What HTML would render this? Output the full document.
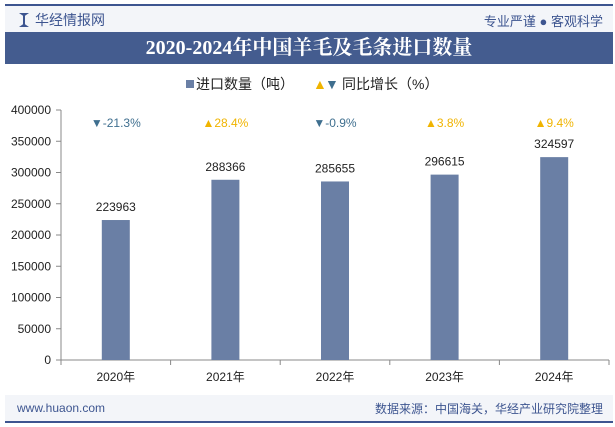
<!DOCTYPE html>
<html><head><meta charset="utf-8"><style>
body{margin:0;width:615px;height:427px;background:#fff;font-family:"Liberation Sans","Noto Sans CJK SC",sans-serif;overflow:hidden;position:relative}
.abs{position:absolute}
</style></head><body>
<div class="abs" style="left:5px;top:4px;width:608px;height:2px;background:#3d5590"></div>
<div class="abs" style="left:5px;top:6px;width:608px;height:26px;background:#f3f5f9"></div>
<div class="abs" style="left:19px;top:10px;font-size:14px;color:#3d5590;"><span style="display:inline-block;width:10px;height:14px;background:#3d5590;vertical-align:-2px;margin-right:6px;clip-path:polygon(0 0,40% 20%,40% 80%,0 100%,100% 100%,60% 80%,60% 20%,100% 0)"></span>华经情报网</div>
<div class="abs" style="right:12px;top:11px;font-size:13px;color:#3d5590">专业严谨 ● 客观科学</div>
<div class="abs" style="left:5px;top:32px;width:608px;height:32px;background:#445c8f;color:#fff;font:bold 20px 'Liberation Serif','Noto Serif CJK SC',serif;text-align:center;line-height:32px">2020-2024年中国羊毛及毛条进口数量</div>
<svg class="abs" style="left:0;top:0" width="615" height="427" id="chart"></svg>
<div class="abs" style="left:5px;top:395px;width:608px;height:26px;background:#f3f5f9"></div>
<div class="abs" style="left:17px;top:401px;font-size:12px;color:#3d5590">www.huaon.com</div>
<div class="abs" style="right:12px;top:400px;font-size:12px;color:#3d5590">数据来源：中国海关，华经产业研究院整理</div>
<div class="abs" style="left:5px;top:421px;width:608px;height:2px;background:#3d5590"></div>
<script>
const categories=["2020年","2021年","2022年","2023年","2024年"];
const values=[223963,288366,285655,296615,324597];
const growth=[-21.3,28.4,-0.9,3.8,9.4];
const yTicks=[0,50000,100000,150000,200000,250000,300000,350000,400000];
const svg=document.getElementById('chart');
const NS='http://www.w3.org/2000/svg';
const x0=61,x1=609,y0=360,yTop=110;
const band=(x1-x0)/categories.length;
const X=i=>x0+band*(i+0.5);
const Y=v=>y0-(v/400000)*(y0-yTop);
function el(t,a,txt){const e=document.createElementNS(NS,t);for(const k in a)e.setAttribute(k,a[k]);if(txt!=null)e.textContent=txt;svg.appendChild(e);return e;}
let ax=el('line',{x1:x0,y1:y0,x2:x1,y2:y0,stroke:'#888'});

let ay=el('line',{x1:x0,y1:yTop,x2:x0,y2:y0,stroke:'#888'});

yTicks.forEach(v=>{
 el('line',{x1:x0-5,y1:Y(v),x2:x0,y2:Y(v),stroke:'#888'});
 let t=el('text',{x:x0-10,y:Y(v)+4,'text-anchor':'end','font-size':12,fill:'#222'},v);
 
});
for(let i=0;i<=categories.length;i++)el('line',{x1:x0+band*i,y1:y0,x2:x0+band*i,y2:y0+5,stroke:'#888'});
categories.forEach((c,i)=>{
 let b=el('rect',{x:X(i)-14,y:Y(values[i]),width:28,height:y0-Y(values[i]),fill:'#6a7fa5'});
 
 let v=el('text',{x:X(i),y:Y(values[i])-9,'text-anchor':'middle','font-size':12,fill:'#222'},values[i]);
 
 let l=el('text',{x:X(i),y:y0+21,'text-anchor':'middle','font-size':12,fill:'#222'},c);
 
 const up=growth[i]>=0;
 let g=el('text',{x:X(i),y:127,'text-anchor':'middle','font-size':12,fill:up?'#f0b400':'#3f6f8f'},(up?'▲':'▼')+growth[i]+'%');
 
});
let lg=el('rect',{x:186,y:80,width:8,height:8,fill:'#6a7fa5'});

let lt=el('text',{x:196,y:89,'font-size':14,fill:'#222'},'进口数量（吨）');

let lt2=el('text',{x:313,y:89,'font-size':14,fill:'#f0b400'},'▲');

let lt3=el('text',{x:325,y:89,'font-size':14,fill:'#3f6f8f'},'▼');

let lt4=el('text',{x:342,y:89,'font-size':14,fill:'#222'},'同比增长（%）');

</script>
</body></html>
